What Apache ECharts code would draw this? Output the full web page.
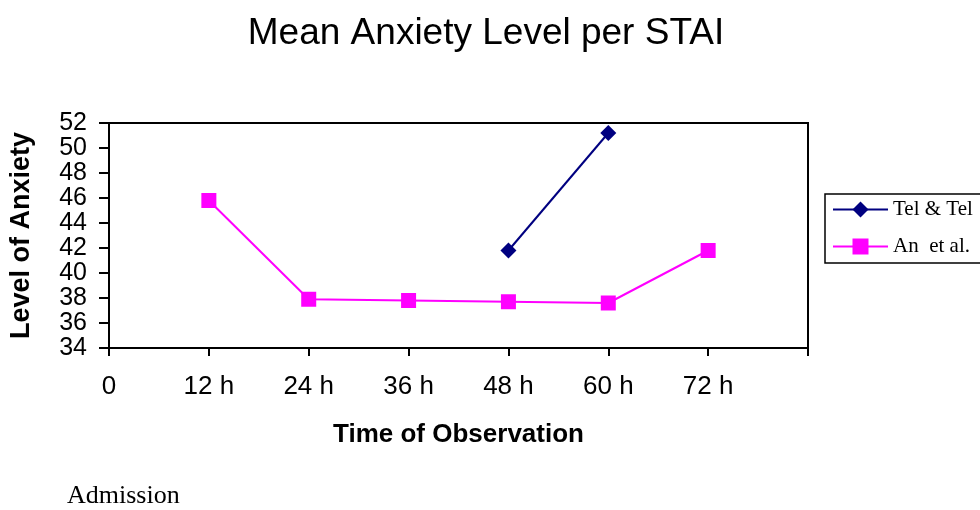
<!DOCTYPE html>
<html>
<head>
<meta charset="utf-8">
<script src="https://cdn.jsdelivr.net/npm/echarts@6/dist/echarts.min.js"></script>
<style>
  html, body { margin: 0; padding: 0; background: #fff; }
  #chart { width: 980px; height: 510px; }
</style>
</head>
<body>
<div id="chart"></div>
<script>
// hours after admission and mean STAI score
const telHours = [48, 60];
const telValues = [41.8, 51.2];
const anHours = [12, 24, 36, 48, 60, 72];
const anValues = [45.8, 37.9, 37.8, 37.7, 37.6, 41.8];
const seriesNames = ['Tel & Tel', 'An  et al.'];

const chart = echarts.init(document.getElementById('chart'));

const toPairs = (xs, ys) => xs.map((x, i) => [x, ys[i]]);

const option = {
  backgroundColor: '#fff',
  animation: false,
  title: {
    text: 'Mean Anxiety Level per STAI',
    left: 486,
    top: 15,
    padding: 0,
    textAlign: 'center',
    textStyle: { fontFamily: 'Liberation Sans', fontSize: 37, fontWeight: 'normal', color: '#000' }
  },
  legend: {
    orient: 'vertical',
    left: 825,
    top: 194,
    padding: [5, 40, 6, 7],
    itemGap: 16,
    itemWidth: 55,
    itemHeight: 20,
    borderColor: '#000',
    borderWidth: 1.5,
    data: seriesNames,
    textStyle: { fontFamily: 'Liberation Serif', fontSize: 21, color: '#000' }
  },
  grid: {
    left: 109, right: 172, top: 123, bottom: 162,
    outerBoundsMode: 'none',
    show: true, borderColor: '#000', borderWidth: 2
  },
  xAxis: {
    type: 'value',
    min: 0, max: 84, interval: 12,
    name: 'Time of Observation',
    nameLocation: 'middle',
    nameGap: 74,
    nameTextStyle: { fontFamily: 'Liberation Sans', fontSize: 26, fontWeight: 'bold', color: '#000' },
    axisLine: { lineStyle: { color: '#000', width: 2 } },
    axisTick: { show: true, inside: false, length: 8, lineStyle: { color: '#000', width: 2 } },
    splitLine: { show: false },
    axisLabel: {
      margin: 26,
      fontFamily: 'Liberation Sans', fontSize: 26, color: '#000',
      formatter: v => v === 0 ? '0' : (v === 84 ? '' : v + ' h')
    }
  },
  yAxis: {
    type: 'value',
    min: 34, max: 52, interval: 2,
    name: 'Level of Anxiety',
    nameLocation: 'middle',
    nameGap: 74,
    nameTextStyle: { fontFamily: 'Liberation Sans', fontSize: 27, fontWeight: 'bold', color: '#000' },
    axisLine: { show: true, lineStyle: { color: '#000', width: 2 } },
    axisTick: { show: true, inside: false, length: 10, lineStyle: { color: '#000', width: 2 } },
    splitLine: { show: false },
    axisLabel: { margin: 22, fontFamily: 'Liberation Sans', fontSize: 25, color: '#000', lineHeight: 22 }
  },
  series: [
    {
      name: seriesNames[0],
      type: 'line',
      data: toPairs(telHours, telValues),
      symbol: 'diamond',
      symbolSize: 16,
      color: '#000080',
      lineStyle: { width: 2, color: '#000080' },
      itemStyle: { color: '#000080' }
    },
    {
      name: seriesNames[1],
      type: 'line',
      data: toPairs(anHours, anValues),
      symbol: 'rect',
      symbolSize: 15,
      color: '#ff00ff',
      lineStyle: { width: 2, color: '#ff00ff' },
      itemStyle: { color: '#ff00ff' }
    }
  ],
  graphic: [
    {
      type: 'text',
      left: 67,
      top: 483,
      style: { text: 'Admission', font: '26px "Liberation Serif"', fill: '#000' }
    }
  ]
};

chart.setOption(option);
</script>
</body>
</html>
